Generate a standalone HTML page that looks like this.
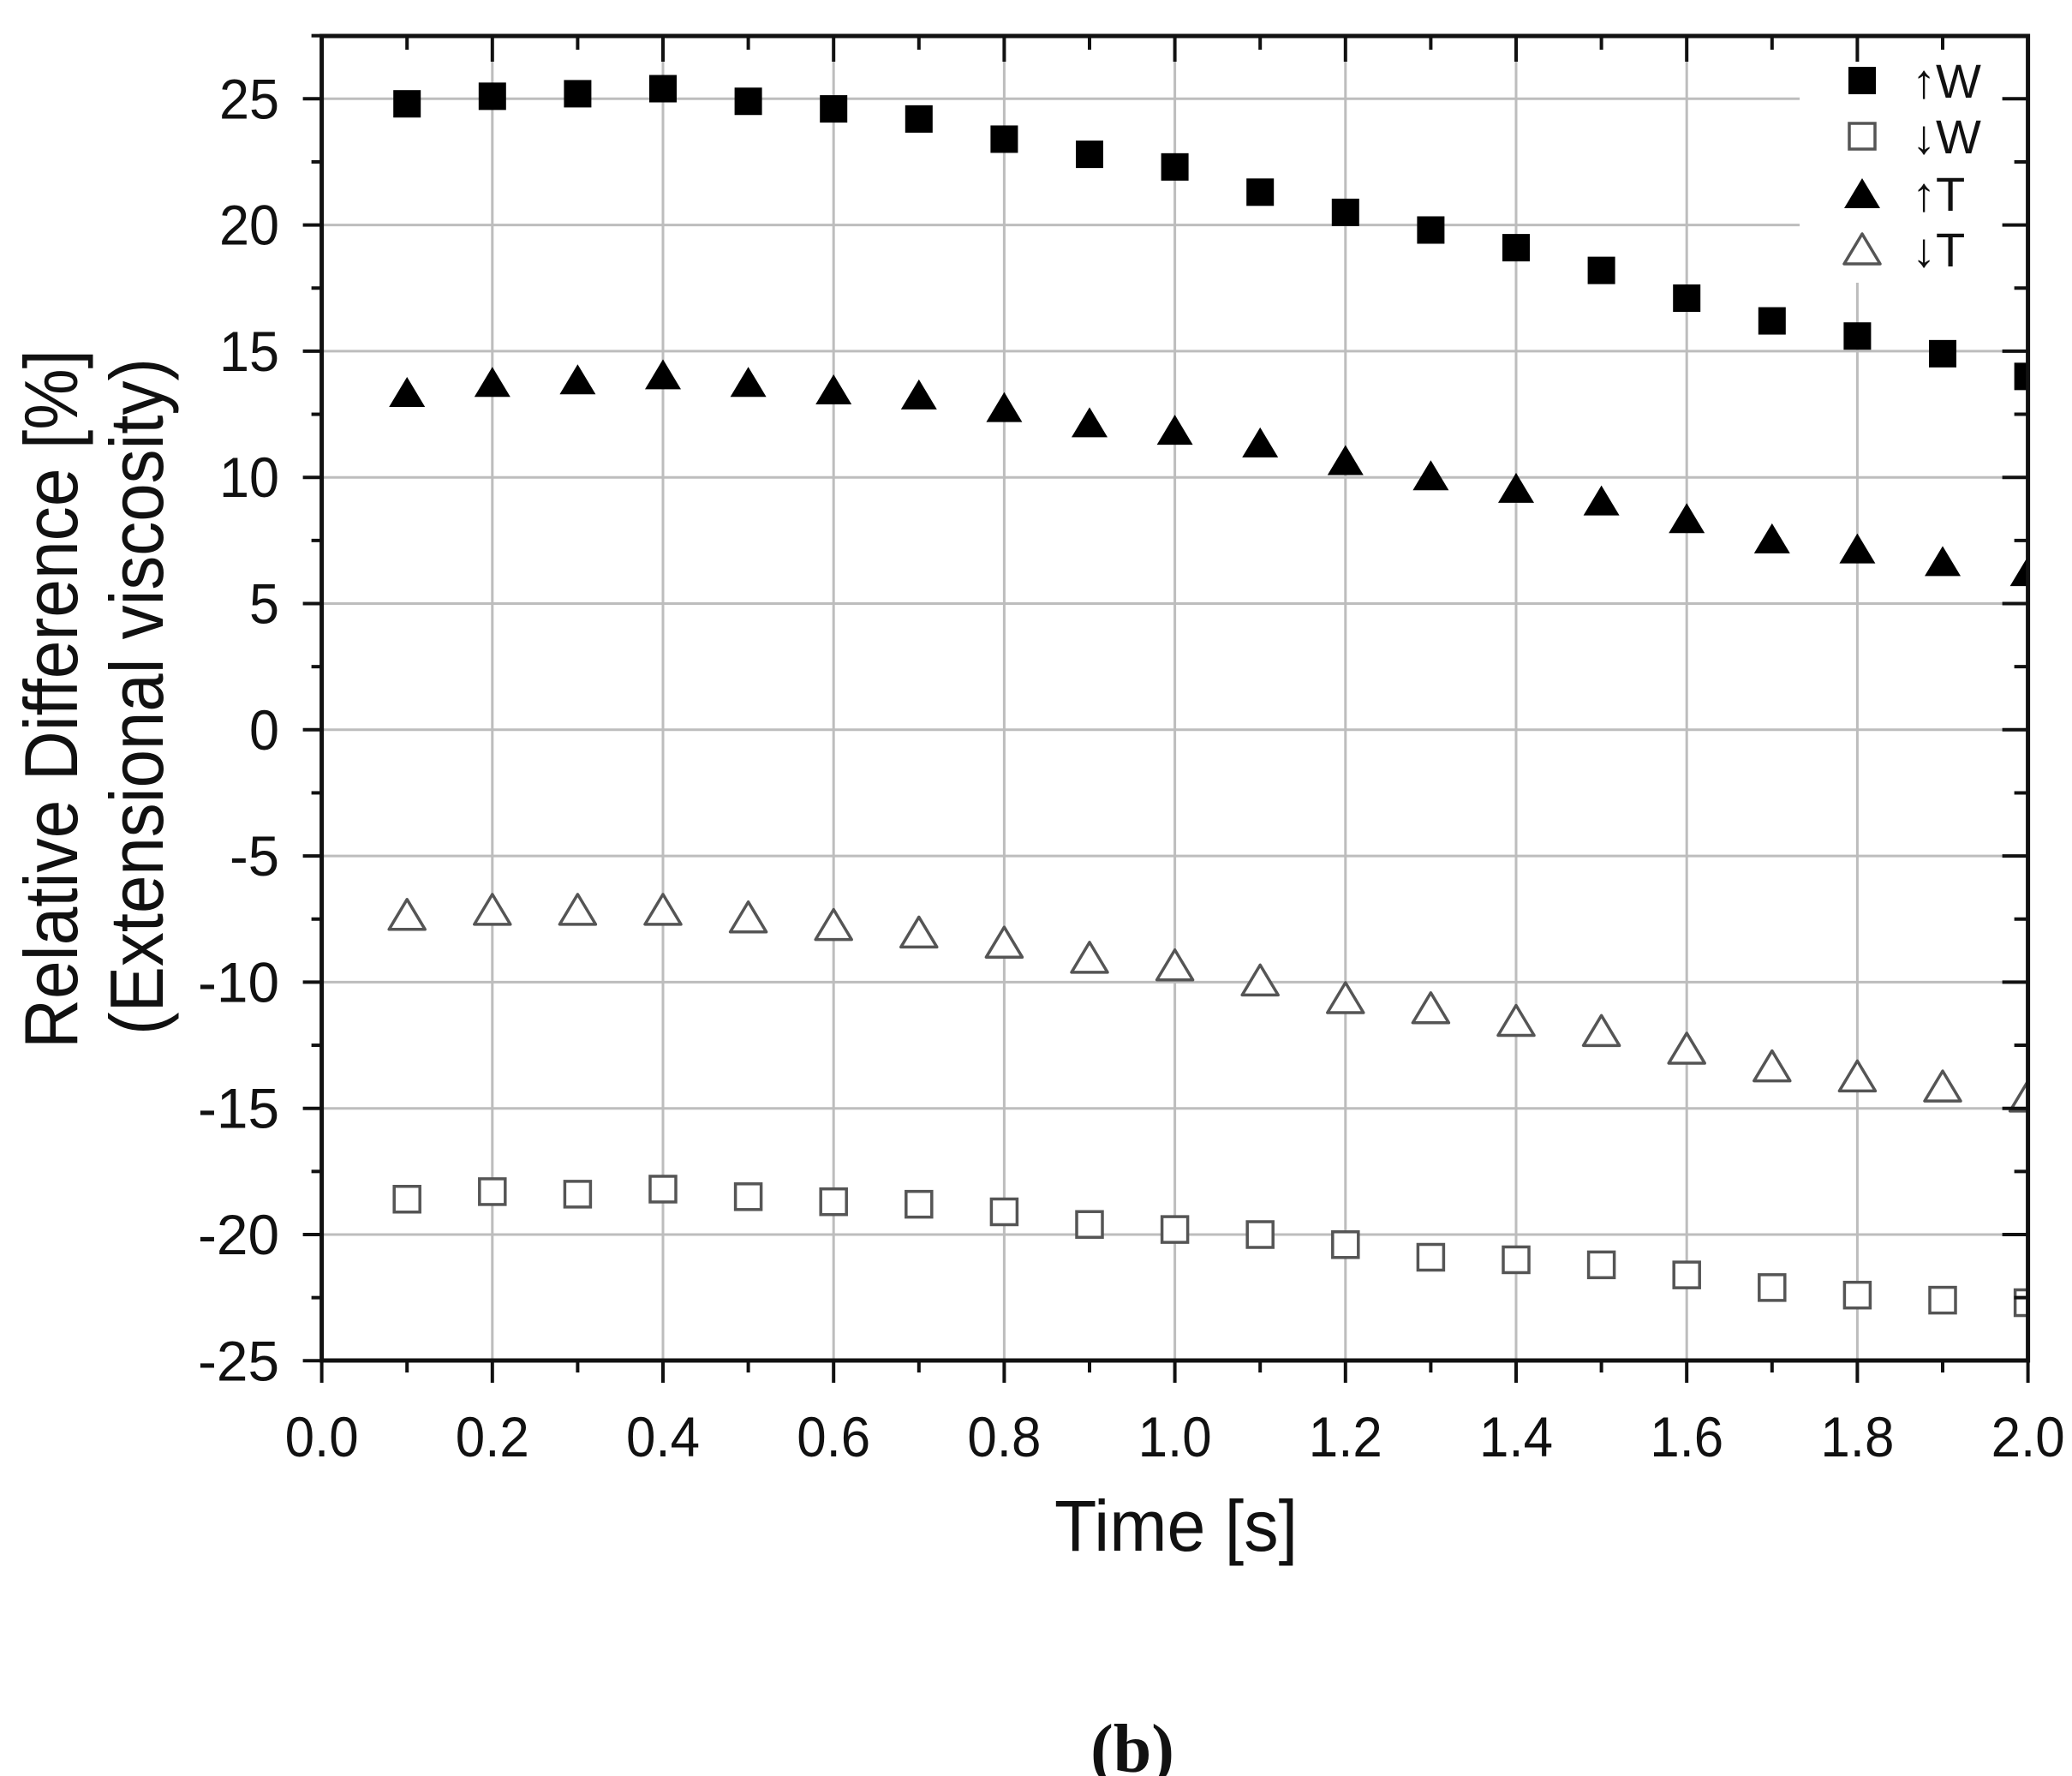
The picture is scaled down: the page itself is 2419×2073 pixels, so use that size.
<!DOCTYPE html>
<html><head><meta charset="utf-8"><style>
html,body{margin:0;padding:0;background:#fff;}
svg{display:block;}
text{font-family:"Liberation Sans",Arial,sans-serif;fill:#111;}
</style></head><body>
<svg id="c" xmlns="http://www.w3.org/2000/svg" width="2419" height="2073" viewBox="0 0 2419 2073">
<defs><clipPath id="pc"><rect x="375.6" y="42" width="1992" height="1546"/></clipPath></defs>
<g id="grid"></g>
<g id="data" clip-path="url(#pc)"></g>
<g id="axes"></g>
<g id="labels"></g>
<text x="90" y="816" font-size="88" text-anchor="middle" transform="rotate(-90 90 816)" textLength="816" lengthAdjust="spacingAndGlyphs">Relative Difference [%]</text>
<text x="190" y="813" font-size="88" text-anchor="middle" transform="rotate(-90 190 813)" textLength="790" lengthAdjust="spacingAndGlyphs">(Extensional viscosity)</text>
<text x="1373" y="1810" font-size="84" text-anchor="middle" textLength="284" lengthAdjust="spacingAndGlyphs">Time [s]</text>
<text x="1322" y="2068" font-size="80" font-weight="bold" text-anchor="middle" style="font-family:'Liberation Serif',serif">(b)</text>
</svg>
<script>
var NS="http://www.w3.org/2000/svg";
function el(p,t,a){var e=document.createElementNS(NS,t);for(var k in a)e.setAttribute(k,a[k]);p.appendChild(e);return e;}
var L=375.6,R=2367.6,T=42,B=1588;
function X(t){return L+t*996;}
function Y(v){return 115.3+(25-v)*29.46;}
var g=document.getElementById('grid'),d=document.getElementById('data'),ax=document.getElementById('axes'),lb=document.getElementById('labels');
var gs={stroke:"#bdbdbd","stroke-width":3};
for(var v=-20;v<=25;v+=5){var x2=(v>=20)?2101:R;el(g,'line',Object.assign({x1:L,x2:x2,y1:Y(v),y2:Y(v)},gs));}
for(var i=1;i<=9;i++){var t=i*0.2;var y1=(i==9)?330:T;el(g,'line',Object.assign({x1:X(t),x2:X(t),y1:y1,y2:B},gs));}
var W1=[24.8,25.1,25.2,25.4,24.9,24.6,24.2,23.4,22.8,22.3,21.3,20.5,19.8,19.1,18.2,17.1,16.2,15.6,14.9,14.0];
var T1=[13.3,13.7,13.8,14.0,13.7,13.4,13.2,12.7,12.1,11.8,11.3,10.6,10.0,9.5,9.0,8.3,7.5,7.1,6.6,6.2];
var T2=[-7.4,-7.2,-7.2,-7.2,-7.5,-7.8,-8.1,-8.5,-9.1,-9.4,-10.0,-10.7,-11.1,-11.6,-12.0,-12.7,-13.4,-13.8,-14.2,-14.6];
var W2=[-18.6,-18.3,-18.4,-18.2,-18.5,-18.7,-18.8,-19.1,-19.6,-19.8,-20.0,-20.4,-20.9,-21.0,-21.2,-21.6,-22.1,-22.4,-22.6,-22.7];
function sq(p,x,y,fill){if(fill)el(p,'rect',{x:x-16,y:y-16,width:32,height:32,fill:"#000"});else el(p,'rect',{x:x-15,y:y-15,width:30,height:30,fill:"#fff",stroke:"#555","stroke-width":3.5});}
function tri(p,x,y,fill){var pts=(x-21)+","+(y+15)+" "+(x+21)+","+(y+15)+" "+x+","+(y-20);if(fill)el(p,'polygon',{points:pts,fill:"#000"});else el(p,'polygon',{points:pts,fill:"#fff",stroke:"#555","stroke-width":3.5,"stroke-linejoin":"round"});}
for(var i=0;i<20;i++){var x=X((i+1)*0.1);
sq(d,x,Y(W1[i]),true);tri(d,x,Y(T1[i]),true);tri(d,x,Y(T2[i]),false);sq(d,x,Y(W2[i]),false);}
el(ax,'rect',{x:L,y:T,width:R-L,height:B-T,stroke:"#111","stroke-width":5,fill:"none"});
var ts={stroke:"#111","stroke-width":4};
for(var i=0;i<=20;i++){var x=X(i*0.1);var maj=(i%2==0);
 el(ax,'line',Object.assign({x1:x,x2:x,y1:B,y2:B+(maj?26:14)},ts));
 if(i>0&&i<20)el(ax,'line',Object.assign({x1:x,x2:x,y1:T,y2:T+(maj?30:16)},ts));
 if(maj){var tx=el(lb,'text',{x:x,y:1700,"font-size":66,"text-anchor":"middle",textLength:86,lengthAdjust:"spacingAndGlyphs"});tx.textContent=(i/10).toFixed(1);}
}
for(var v=-25;v<=27.5;v+=2.5){var y=Y(v);var maj=(Math.abs(v%5)<0.01);
 el(ax,'line',Object.assign({x1:L-(maj?22:12),x2:L,y1:y,y2:y},ts));
 el(ax,'line',Object.assign({x1:R-(maj?30:16),x2:R,y1:y,y2:y},ts));
 if(maj){var s=String(v);var w=s.length==1?35:(s.length==2?(v<0?58:70):95);
  var tx=el(lb,'text',{x:326,y:y+23,"font-size":66,"text-anchor":"end",textLength:w,lengthAdjust:"spacingAndGlyphs"});tx.textContent=s;}
}
var ly=[94,159,226,291];
sq(lb,2174,ly[0],true);sq(lb,2174,ly[1],false);tri(lb,2174,ly[2]+2,true);tri(lb,2174,ly[3]+2,false);
var nm=["↑W","↓W","↑T","↓T"];
for(var i=0;i<4;i++){var tx=el(lb,'text',{x:2232,y:ly[i]+20,"font-size":56});tx.textContent=nm[i];}
</script>
</body></html>
